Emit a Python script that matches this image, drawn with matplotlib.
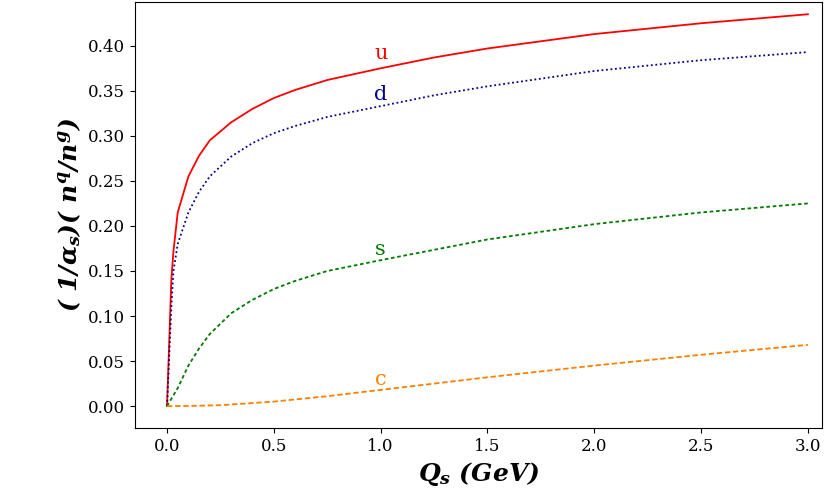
import matplotlib
matplotlib.use("Agg")
import matplotlib.pyplot as plt

x_u = [0, 0.02, 0.03, 0.05, 0.1, 0.15, 0.2, 0.3, 0.4, 0.5, 0.6, 0.75, 1.0, 1.25, 1.5, 2.0, 2.5, 3.0]
u = [0, 0.14, 0.172, 0.215, 0.255, 0.278, 0.295, 0.315, 0.330, 0.342, 0.351, 0.362, 0.375, 0.387, 0.397, 0.413, 0.425, 0.435]
d = [0, 0.11, 0.15, 0.18, 0.215, 0.238, 0.255, 0.277, 0.292, 0.303, 0.311, 0.321, 0.333, 0.345, 0.355, 0.372, 0.384, 0.393]
x_s = [0, 0.05, 0.1, 0.15, 0.2, 0.3, 0.4, 0.5, 0.6, 0.75, 1.0, 1.5, 2.0, 2.5, 3.0]
s = [0, 0.02, 0.045, 0.064, 0.08, 0.103, 0.118, 0.13, 0.139, 0.15, 0.162, 0.185, 0.202, 0.215, 0.225]
x_c = [0, 0.1, 0.25, 0.5, 0.75, 1.0, 1.5, 2.0, 2.5, 3.0]
c = [0, 0.0002, 0.001, 0.005, 0.011, 0.018, 0.032, 0.045, 0.057, 0.068]

plt.rcParams["font.family"] = "DejaVu Serif"
plt.rcParams["mathtext.fontset"] = "custom"
plt.rcParams["mathtext.it"] = "DejaVu Serif:italic:bold"
plt.rcParams["mathtext.rm"] = "DejaVu Serif:italic:bold"
fig = plt.figure(figsize=(8.3, 5.0), dpi=100)
ax = fig.add_axes([135/830, 72/500, 687/830, 426/500])
ax.plot(x_u, u, color="#ff0000", lw=1.3, ls="-")
ax.plot(x_u, d, color="#00008b", lw=1.3, ls=(0, (1, 1.5)))
ax.plot(x_s, s, color="#007a00", lw=1.3, ls=(0, (2, 1.5)))
ax.plot(x_c, c, color="#ff8000", lw=1.3, ls=(0, (3, 1.5)))
ax.text(1.0, 0.385, "u", color="#ff0000", fontsize=15, ha="center")
ax.text(1.0, 0.340, "d", color="#00008b", fontsize=15, ha="center")
ax.text(1.0, 0.168, "s", color="#007a00", fontsize=15, ha="center")
ax.text(1.0, 0.023, "c", color="#ff8000", fontsize=15, ha="center")
ax.set_xlim(-0.15, 3.066)
ax.set_ylim(-0.0243, 0.4486)
ax.set_xticks([0, 0.5, 1.0, 1.5, 2.0, 2.5, 3.0])
ax.set_xticklabels(["0.0", "0.5", "1.0", "1.5", "2.0", "2.5", "3.0"])
ax.set_yticks([0, 0.05, 0.1, 0.15, 0.2, 0.25, 0.3, 0.35, 0.4])
ax.set_yticklabels(["0.00", "0.05", "0.10", "0.15", "0.20", "0.25", "0.30", "0.35", "0.40"])
ax.tick_params(labelsize=12, direction="out")
ax.set_xlabel(r"$Q_s$ (GeV)", fontsize=18, fontweight="bold", style="italic")
ax.set_ylabel(r"( 1/$\alpha_s$)( $n^q$/$n^g$)", fontsize=18, fontweight="bold", style="italic")
fig.savefig("out.png", dpi=100)
